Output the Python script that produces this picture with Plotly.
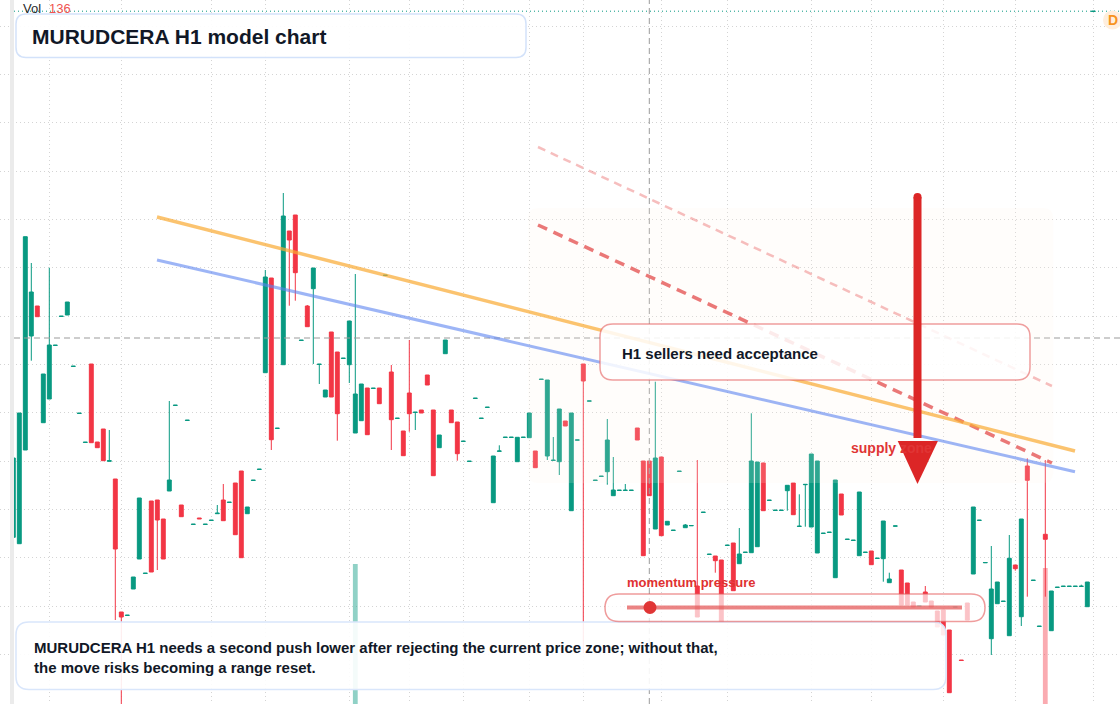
import plotly.graph_objects as go

# ---------------- data ----------------
opens = [26.27, 25.63, 35.0, 46.4, 49.4, 37.73, 40.1, 45.45, 48.35, 48.5,
         43.35, 38.65, 35.75, 43.6, 35.8, 37.1, 33.87, 32.1, 18.8, 18.45,
         21.1, 24.1, 22.65, 29.9, 30.0, 28.1, 30.9, 39.45, 29.5, 37.95,
         27.55, 28.2, 27.55, 27.95, 28.63, 30.0, 29.75, 31.7, 32.9, 28.63,
         31.95, 33.05, 42.73, 52.2, 37.15, 43.53, 56.9, 58.5, 45.95, 49.4,
         51.13, 43.55, 40.3, 46.8, 44.8, 44.15, 43.53, 36.7, 37.93, 41.2,
         41.15, 41.2, 52.45, 42.8, 38.15, 36.9, 40.7, 38.75, 39.0, 42.5,
         39.0, 35.23, 44.63, 39.0, 37.8, 35.85, 33.85, 40.15, 38.15, 39.25,
         29.73, 34.87, 36.25, 36.25, 33.83, 36.25, 36.23, 34.9, 42.05, 34.4,
         33.95, 33.83, 37.9, 28.93, 35.98, 43.6, 39.88, 31.95, 32.35, 32.83,
         30.43, 30.95, 30.95, 30.95, 37.2, 33.9, 33.9, 27.1, 34.3, 27.5,
         26.95, 32.85, 27.23, 27.42, 21.4, 28.75, 24.55, 24.4, 24.0, 25.45,
         25.7, 23.63, 24.75, 24.73, 25.33, 33.7, 29.95, 28.95, 28.95, 30.93,
         31.7, 27.35, 31.53, 27.3, 24.7, 26.65, 26.75, 22.23, 30.6, 26.05,
         25.95, 24.43, 24.75, 24.9, 24.15, 24.13, 21.73, 27.38, 23.0, 21.7,
         19.8, 19.38, 20.8, 19.9, 18.9, 19.0, 17.0, 19.28, 14.0, 19.7,
         22.6, 27.95, 23.72, 16.13, 19.63, 19.85, 16.43, 23.5, 18.33, 33.4,
         21.95, 17.35, 26.57, 16.93, 21.25, 21.35, 21.35, 21.35, 21.35, 19.33,
         78.85]
highs = [34.2, 38.7, 56.33, 53.7, 49.4, 42.6, 53.23, 45.48, 48.38, 49.8,
         43.38, 38.68, 35.78, 43.6, 35.8, 37.1, 37.0, 32.1, 18.8, 18.48,
         22.3, 30.2, 22.68, 29.9, 30.0, 28.1, 39.9, 39.48, 29.5, 37.98,
         27.58, 28.2, 27.58, 27.98, 29.5, 31.6, 29.78, 31.7, 32.9, 29.3,
         31.98, 33.08, 53.0, 52.2, 37.18, 60.7, 56.9, 58.5, 45.98, 49.5,
         53.2, 43.58, 41.0, 46.8, 44.8, 44.18, 47.9, 52.6, 41.6, 41.2,
         41.18, 41.2, 52.48, 43.5, 38.18, 36.9, 46.0, 38.78, 39.0, 42.5,
         39.0, 36.5, 46.0, 39.0, 37.8, 35.88, 33.88, 40.18, 38.18, 39.28,
         34.4, 35.47, 36.28, 36.28, 36.27, 36.28, 38.7, 34.9, 42.08, 42.0,
         36.3, 39.1, 37.9, 38.7, 36.01, 43.6, 39.91, 31.98, 32.38, 38.1,
         34.3, 30.98, 31.6, 30.98, 37.2, 33.9, 33.9, 41.83, 34.3, 27.87,
         26.98, 32.88, 27.6, 27.45, 34.0, 28.78, 24.58, 24.4, 24.0, 25.48,
         25.7, 27.2, 24.78, 38.67, 33.8, 33.73, 29.98, 28.98, 28.98, 31.47,
         31.7, 30.57, 31.56, 34.6, 33.9, 26.68, 26.78, 32.0, 30.6, 26.08,
         25.98, 30.8, 24.78, 24.9, 24.18, 27.9, 22.73, 27.41, 23.0, 21.7,
         19.8, 19.41, 21.4, 19.9, 18.9, 19.0, 17.0, 19.31, 14.0, 19.7,
         29.3, 27.98, 23.75, 25.4, 21.8, 19.88, 26.5, 23.5, 28.1, 34.17,
         21.98, 17.38, 34.0, 20.9, 21.28, 21.38, 21.38, 21.38, 21.53, 21.8,
         78.88]
lows = [26.27, 25.63, 35.0, 43.93, 48.33, 37.73, 40.1, 45.45, 48.35, 48.5,
        43.35, 38.65, 35.75, 35.73, 35.23, 33.93, 33.87, 18.0, 9.4, 18.45,
        21.1, 24.1, 22.65, 22.8, 23.0, 24.1, 30.9, 39.45, 28.33, 37.95,
        27.55, 28.12, 27.55, 27.95, 28.63, 27.93, 29.75, 26.53, 24.23, 28.63,
        31.95, 33.05, 42.73, 35.0, 37.15, 43.53, 49.43, 49.93, 45.95, 47.33,
        43.6, 41.6, 40.3, 40.3, 35.93, 44.15, 41.7, 36.7, 37.93, 36.53,
        41.15, 39.63, 52.45, 35.0, 38.15, 34.43, 36.83, 37.0, 38.7, 41.5,
        32.43, 35.23, 44.63, 37.73, 33.93, 35.85, 33.85, 40.15, 38.15, 39.25,
        29.73, 34.87, 36.25, 36.25, 33.83, 36.25, 36.23, 33.23, 42.05, 34.0,
        33.95, 32.5, 37.4, 28.93, 35.98, 14.7, 39.88, 31.95, 32.35, 31.53,
        30.43, 30.95, 30.95, 30.95, 36.0, 24.43, 30.43, 27.1, 26.43, 27.5,
        26.95, 32.85, 27.23, 27.42, 18.3, 28.75, 24.55, 22.73, 17.8, 25.45,
        20.93, 23.63, 24.75, 24.73, 25.33, 28.93, 29.95, 28.95, 28.95, 28.93,
        28.53, 27.35, 27.33, 27.3, 24.7, 26.65, 26.75, 22.23, 28.5, 26.05,
        25.95, 24.43, 24.75, 23.53, 24.15, 21.83, 21.73, 27.38, 19.5, 19.5,
        19.3, 19.38, 19.8, 19.3, 17.3, 16.5, 10.73, 19.28, 13.95, 18.0,
        22.6, 27.95, 23.72, 14.5, 19.63, 19.85, 16.43, 22.93, 17.4, 20.33,
        21.95, 17.35, 20.33, 16.93, 21.25, 21.35, 21.35, 21.35, 21.35, 19.33,
        78.85]
closes = [34.2, 38.7, 56.33, 50.8, 48.33, 42.6, 45.5, 45.48, 48.38, 49.8,
          43.38, 38.68, 35.78, 35.73, 35.23, 33.93, 33.93, 25.1, 18.3, 18.48,
          22.3, 30.2, 22.68, 22.8, 28.0, 24.1, 32.0, 39.48, 28.33, 37.98,
          27.58, 28.12, 27.58, 27.98, 28.68, 27.93, 29.78, 26.53, 24.23, 29.3,
          31.98, 33.08, 52.3, 36.03, 37.18, 58.4, 56.0, 52.73, 45.98, 47.33,
          53.2, 43.58, 41.0, 40.3, 38.63, 44.18, 47.9, 40.6, 41.6, 36.53,
          41.18, 39.63, 52.48, 38.03, 38.18, 34.43, 38.63, 38.78, 38.7, 41.5,
          32.43, 36.5, 46.0, 37.73, 34.63, 35.88, 33.88, 40.18, 38.18, 39.28,
          34.4, 34.9, 36.28, 36.28, 36.27, 36.28, 38.7, 33.23, 42.08, 42.0,
          33.98, 39.1, 37.4, 38.7, 36.01, 41.9, 39.91, 31.98, 32.38, 36.0,
          31.0, 30.98, 30.98, 30.98, 36.0, 24.43, 30.43, 34.2, 26.43, 27.87,
          26.98, 32.88, 27.5, 27.45, 18.3, 28.78, 24.58, 23.93, 17.8, 25.48,
          20.93, 24.6, 24.78, 33.9, 33.8, 28.93, 29.98, 28.98, 28.98, 31.47,
          28.53, 27.38, 31.56, 34.6, 33.9, 26.68, 26.78, 32.0, 28.5, 26.08,
          25.98, 30.8, 24.78, 23.53, 24.18, 27.9, 22.1, 27.41, 19.5, 19.5,
          19.3, 19.41, 19.8, 19.3, 17.3, 16.5, 10.73, 19.31, 13.95, 18.0,
          29.3, 27.98, 23.75, 21.1, 21.8, 19.88, 24.17, 23.13, 28.1, 31.97,
          21.98, 17.38, 26.07, 20.9, 21.28, 21.38, 21.38, 21.38, 21.38, 21.8,
          78.88]
volumes = [0, 0, 0, 0, 0, 0, 0, 0, 0, 0, 0, 0, 0, 0, 0, 0, 0, 0, 0, 0,
           0, 0, 0, 0, 0, 0, 0, 0, 0, 0, 0, 0, 0, 0, 0, 0, 0, 0, 0, 0,
           0, 0, 0, 0, 0, 0, 0, 0, 0, 0, 0, 0, 0, 0, 0, 0, 0, 140, 0, 0,
           0, 0, 0, 0, 0, 0, 0, 0, 0, 0, 0, 0, 0, 0, 0, 0, 0, 0, 0, 0,
           0, 0, 0, 0, 0, 0, 0, 0, 0, 0, 0, 0, 0, 0, 0, 0, 0, 0, 0, 0,
           0, 0, 0, 0, 0, 0, 0, 0, 0, 0, 0, 0, 0, 0, 0, 0, 0, 0, 0, 0,
           0, 0, 0, 0, 0, 0, 0, 0, 0, 0, 0, 0, 0, 0, 0, 0, 0, 0, 0, 0,
           0, 0, 0, 0, 0, 0, 0, 0, 0, 0, 0, 0, 0, 0, 0, 0, 0, 0, 0, 0,
           0, 0, 0, 0, 0, 0, 0, 0, 0, 0, 0, 0, 136, 0, 0, 0, 0, 0, 0, 0,
           0]
bars = list(range(len(opens)))

# time-grid bars and crosshair
grid_bars = [6, 18, 33, 42, 56, 66, 75, 86, 95, 108, 119, 133, 143, 155, 167, 180]
cross_bar = 106
cross_price = 46.2
last_price = 78.88

# drawings (bar index, price)
orange_line = ([23.95, 176.95], [58.3, 34.9])
blue_line = ([23.95, 176.95], [54.0, 32.83])
pink_dash = ([87.45, 173.1], [65.3, 41.4])
red_dash = ([87.45, 173.1], [57.5, 33.7])
zone_x = [85.8, 173.3]
zone_y = [31.7, 59.2]
arrow_x = 150.7
arrow_y = [60.3, 35.9, 31.6]
arrow_head_x = [147.4, 154.1]
supply_label = (139.3, 35.2)

TITLE = "MURUDCERA H1 model chart"
NOTE = ("MURUDCERA H1 needs a second push lower after rejecting the current price zone; without that,"
        "<br>the move risks becoming a range reset.")
BOX_TEXT = "H1 sellers need acceptance"

# ---------------- styling ----------------
UP = "#089981"
DN = "#F23645"
FONT = "Liberation Sans, Arial, sans-serif"
W, H = 1120, 704


def px(x):
    return x / W


def py(y):
    return 1 - y / H


def rpath(xa, ya, xb, yb, rx, ry):
    return (f"M{xa + rx},{ya} L{xb - rx},{ya} Q{xb},{ya} {xb},{ya + ry} "
            f"L{xb},{yb - ry} Q{xb},{yb} {xb - rx},{yb} L{xa + rx},{yb} "
            f"Q{xa},{yb} {xa},{yb - ry} L{xa},{ya + ry} Q{xa},{ya} {xa + rx},{ya} Z")


def paper_box(x0, y0, x1, y1, r):
    return rpath(px(x0), py(y1), px(x1), py(y0), r / W, r / H)


vol_colors = ["rgba(8,153,129,0.45)" if c >= o else "rgba(242,54,69,0.42)"
              for o, c in zip(opens, closes)]

fig = go.Figure()
fig.add_trace(go.Bar(x=bars, y=volumes, yaxis="y2", width=0.8,
                     marker=dict(color=vol_colors, line_width=0), hoverinfo="skip"))
fig.add_trace(go.Candlestick(
    x=bars, open=opens, high=highs, low=lows, close=closes, whiskerwidth=0,
    increasing=dict(line=dict(color=UP, width=1), fillcolor=UP),
    decreasing=dict(line=dict(color=DN, width=1), fillcolor=DN)))

shapes = []
# left strip
shapes.append(dict(type="rect", xref="paper", yref="paper", x0=px(10), x1=px(14), y0=0, y1=1,
                   fillcolor="#ebebeb", line_width=0, layer="above"))
# last price line
shapes.append(dict(type="line", xref="paper", yref="y", x0=px(14), x1=1, y0=last_price, y1=last_price,
                   line=dict(color=UP, width=1, dash="1px,3px"), layer="below"))
# crosshair
shapes.append(dict(type="line", xref="x", yref="paper", x0=cross_bar, x1=cross_bar, y0=0, y1=1,
                   line=dict(color="#9b9b9b", width=1, dash="6px,4px"), layer="above"))
shapes.append(dict(type="line", xref="paper", yref="y", x0=px(14), x1=1, y0=cross_price, y1=cross_price,
                   line=dict(color="#9b9b9b", width=1, dash="6px,4px"), layer="above"))
# supply zone
shapes.append(dict(type="path", xref="x", yref="y",
                   path=rpath(zone_x[0], zone_y[0], zone_x[1], zone_y[1], 10 / 6, 1.0),
                   fillcolor="rgba(255,240,228,0.16)", line_width=0, layer="above"))
# trend lines
for (xs, ys), col, wd, dash in [
        (pink_dash, "rgba(236,110,110,0.45)", 2.5, "8px,6px"),
        (red_dash, "rgba(229,86,86,0.8)", 3.5, "10px,7px"),
        (orange_line, "rgba(249,170,50,0.7)", 3.5, "solid"),
        (blue_line, "rgba(92,132,240,0.6)", 3, "solid")]:
    shapes.append(dict(type="line", xref="x", yref="y", x0=xs[0], x1=xs[1], y0=ys[0], y1=ys[1],
                       line=dict(color=col, width=wd, dash=dash), layer="above"))
# boxes
shapes.append(dict(type="path", xref="paper", yref="paper", path=paper_box(16, 14, 526, 57.5, 10),
                   fillcolor="rgba(255,255,255,0.93)", line=dict(color="#d3e2fa", width=1.5), layer="above"))
shapes.append(dict(type="path", xref="paper", yref="paper", path=paper_box(600, 324, 1030, 380, 13),
                   fillcolor="rgba(255,255,255,0.85)", line=dict(color="rgba(229,95,95,0.6)", width=1.5),
                   layer="above"))
shapes.append(dict(type="path", xref="paper", yref="paper", path=paper_box(16, 622, 946, 689.5, 13),
                   fillcolor="rgba(255,255,255,0.9)", line=dict(color="#d9e6fb", width=1.5), layer="above"))
shapes.append(dict(type="path", xref="paper", yref="paper", path=paper_box(605, 594, 985, 621.5, 14),
                   fillcolor="rgba(255,255,255,0.7)", line=dict(color="rgba(229,90,90,0.6)", width=1.5),
                   layer="above"))
shapes.append(dict(type="line", xref="paper", yref="paper", x0=px(627), x1=px(962), y0=py(607.5), y1=py(607.5),
                   line=dict(color="rgba(226,80,80,0.7)", width=4), layer="above"))
shapes.append(dict(type="circle", xref="paper", yref="paper", x0=px(643.5), x1=px(656.5), y0=py(614), y1=py(601),
                   fillcolor="#e03535", line_width=0, layer="above"))
# arrow
shapes.append(dict(type="line", xref="x", yref="y", x0=arrow_x, x1=arrow_x, y0=arrow_y[0], y1=arrow_y[1] + 0.3,
                   line=dict(color="#dc2626", width=8), layer="above"))
shapes.append(dict(type="circle", xref="x", yref="y", x0=arrow_x - 4 / 6, x1=arrow_x + 4 / 6,
                   y0=arrow_y[0] - 0.4, y1=arrow_y[0] + 0.4, fillcolor="#dc2626", line_width=0, layer="above"))
shapes.append(dict(type="path", xref="x", yref="y",
                   path=f"M{arrow_head_x[0]},{arrow_y[1]} L{arrow_head_x[1]},{arrow_y[1]} L{arrow_x},{arrow_y[2]} Z",
                   fillcolor="#dc2626", line_width=0, layer="above"))
# D badge
shapes.append(dict(type="circle", xref="paper", yref="paper", x0=px(1103), x1=px(1122), y0=py(29.5), y1=py(10.5),
                   fillcolor="#ffeedd", line_width=0, layer="above"))

annotations = [
    dict(xref="paper", yref="paper", x=px(30), y=py(36), xanchor="left", yanchor="middle",
         text=f"<b>{TITLE}</b>", showarrow=False, font=dict(family=FONT, size=21, color="#111827")),
    dict(xref="paper", yref="paper", x=px(620), y=py(353), xanchor="left", yanchor="middle",
         text=f"<b>{BOX_TEXT}</b>", showarrow=False, font=dict(family=FONT, size=15, color="#111827")),
    dict(xref="paper", yref="paper", x=px(32), y=py(657), xanchor="left", yanchor="middle", align="left",
         text=f"<b>{NOTE}</b>", showarrow=False, font=dict(family=FONT, size=15, color="#111827")),
    dict(xref="paper", yref="paper", x=px(625), y=py(582), xanchor="left", yanchor="middle",
         text="<b>momentum pressure</b>", showarrow=False, font=dict(family=FONT, size=13, color="#e03131")),
    dict(xref="x", yref="y", x=supply_label[0], y=supply_label[1], xanchor="left", yanchor="middle",
         text="<b>supply zone</b>", showarrow=False, font=dict(family=FONT, size=14, color="#e03535")),
    dict(xref="paper", yref="paper", x=px(21), y=py(8.5), xanchor="left", yanchor="middle",
         text="Vol", showarrow=False, font=dict(family=FONT, size=13, color="#2a2a2a")),
    dict(xref="paper", yref="paper", x=px(47), y=py(8.5), xanchor="left", yanchor="middle",
         text=f"{volumes[172]}", showarrow=False, font=dict(family=FONT, size=13, color="#ef5350")),
    dict(xref="paper", yref="paper", x=px(1113), y=py(20), xanchor="center", yanchor="middle",
         text="<b>D</b>", showarrow=False, font=dict(family=FONT, size=14, color="#f7931e")),
]

fig.update_layout(
    width=W, height=H, margin=dict(l=0, r=0, t=0, b=0),
    paper_bgcolor="white", plot_bgcolor="white", showlegend=False,
    boxgap=0.35, boxgroupgap=0,
    xaxis=dict(range=[-2.2167, 184.45], rangeslider=dict(visible=False), tickmode="array",
               tickvals=grid_bars, showticklabels=False, ticks="", showgrid=True,
               gridcolor="#d4d4d4", griddash="1px,3px", gridwidth=1, zeroline=False, showline=False),
    yaxis=dict(range=[9.6, 80], tick0=77.4, dtick=4.836, showticklabels=False, ticks="", showgrid=True,
               gridcolor="#d4d4d4", griddash="1px,3px", gridwidth=1, zeroline=False, showline=False),
    yaxis2=dict(range=[0, 704], overlaying="y", visible=False),
    shapes=shapes, annotations=annotations,
)

fig.write_html("out.html")
